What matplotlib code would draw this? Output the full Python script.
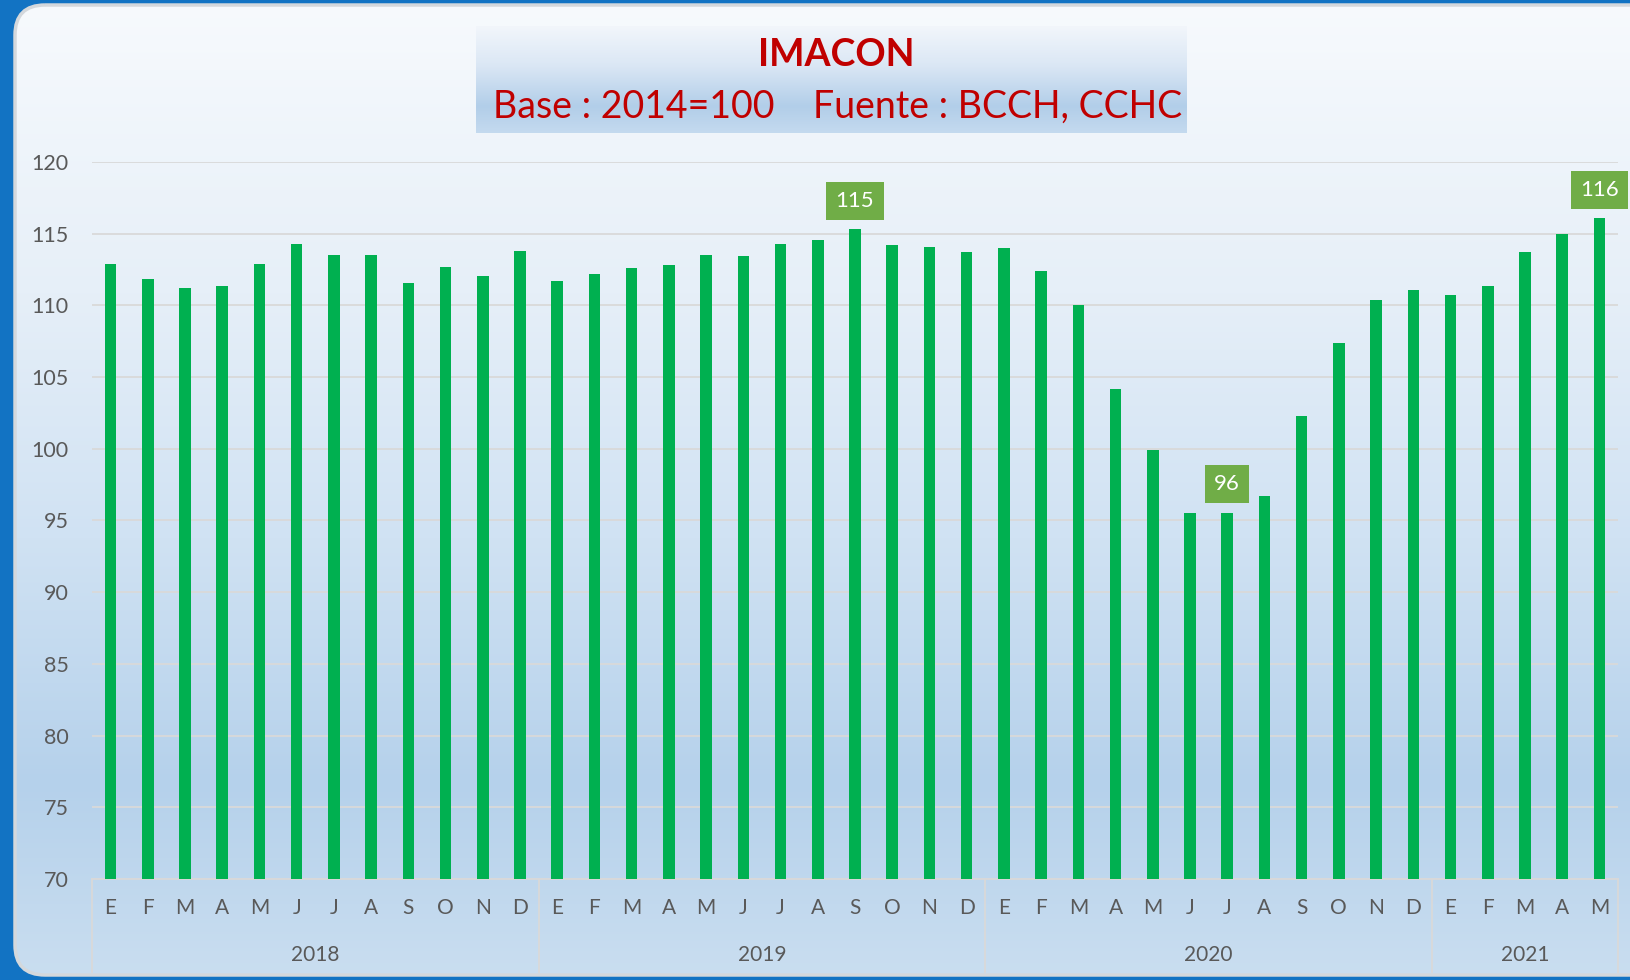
import numpy as np
import matplotlib
matplotlib.use("Agg")
import matplotlib.pyplot as plt
from matplotlib.patches import FancyBboxPatch
from matplotlib.lines import Line2D

plt.rcParams['font.family'] = ['Lato', 'DejaVu Sans']

# data
months = ['E', 'F', 'M', 'A', 'M', 'J', 'J', 'A', 'S', 'O', 'N', 'D']
years = ['2018', '2019', '2020', '2021']
months_per_year = [12, 12, 12, 5]
imacon = [112.9, 111.85, 111.2, 111.35, 112.9, 114.25, 113.5, 113.5, 111.55, 112.65, 112.05, 113.8,
          111.7, 112.2, 112.6, 112.8, 113.5, 113.45, 114.3, 114.55, 115.3, 114.2, 114.1, 113.7,
          114.0, 112.4, 110.05, 104.2, 99.9, 95.55, 95.55, 96.7, 102.3, 107.4, 110.4, 111.05,
          110.7, 111.35, 113.7, 114.97, 116.07]
labelled = {20: '115', 30: '96', 40: '116'}

W, H = 1631, 980
fig = plt.figure(figsize=(W / 100, H / 100), dpi=100)
fig.patch.set_facecolor('#1273C3')


def gradient(stops, n=400):
    pos = [s[0] for s in stops]
    cols = [matplotlib.colors.to_rgb(s[1]) for s in stops]
    t = np.linspace(0, 1, n)
    arr = np.zeros((n, 1, 3))
    for k in range(3):
        arr[:, 0, k] = np.interp(t, pos, [c[k] for c in cols])
    return arr


# background panel
bg = fig.add_axes([0, 0, 1, 1], zorder=-10)
bg.set_xlim(0, W)
bg.set_ylim(H, 0)
bg.axis('off')
panel = FancyBboxPatch((15, 5), W + 40, 970, boxstyle='round,pad=0,rounding_size=30',
                       fc='none', ec='#D4D8DC', lw=2.5, zorder=2)
bg.add_patch(panel)
img = bg.imshow(gradient([(0, '#F7FAFD'), (0.3, '#E6EFF8'), (0.55, '#D0E2F3'),
                          (0.8, '#B5D1EB'), (1, '#CADEF0')]),
                extent=(0, W, H, 0), aspect='auto', zorder=1)
img.set_clip_path(panel)

# title box
tb = fig.add_axes([476 / W, 1 - 133 / H, (1187 - 476) / W, (133 - 26) / H], zorder=-5)
tb.imshow(gradient([(0, '#F2F6FB'), (0.35, '#DCE8F5'), (0.75, '#B2CEE9'), (1, '#C4DAEF')]),
          extent=(0, 1, 0, 1), aspect='auto')
tb.axis('off')
fig.text(836 / W, 1 - 55 / H, 'IMACON', color='#C00000', fontsize=27, fontweight='bold',
         ha='center', va='center')
fig.text(838 / W, 1 - 107 / H, 'Base : 2014=100    Fuente : BCCH, CCHC', color='#C00000',
         fontsize=27, ha='center', va='center')

# main chart
ax = fig.add_axes([92 / W, 101 / H, (1618 - 92) / W, 717 / H])
ax.set_facecolor('none')
x = np.arange(len(imacon))
ax.bar(x, imacon, width=0.31, color='#00B050', zorder=3)
ax.set_xlim(-0.5, len(imacon) - 0.5)
ax.set_ylim(70, 120)
ax.set_yticks(range(70, 121, 5))
ax.yaxis.grid(True, color='#D9D9D9', lw=1.3, zorder=0)
ax.set_axisbelow(True)
for s in ['top', 'right', 'left']:
    ax.spines[s].set_visible(False)
ax.spines['bottom'].set_color('#D9D9D9')
ax.spines['bottom'].set_linewidth(1.3)
ax.tick_params(axis='y', length=0, pad=17, labelsize=15.5, labelcolor='#595959')
ax.set_xticks([])

for i, txt in labelled.items():
    ax.annotate(txt, (x[i], imacon[i]), xytext=(0, 20.5), textcoords='offset points',
                ha='center', va='center', color='white', fontsize=16,
                bbox=dict(boxstyle='square,pad=0.42', fc='#70AD47', ec='none'),
                annotation_clip=False, zorder=5)

# two-level category axis
tr = ax.get_xaxis_transform()
ah = 717
idx = 0
bounds = [-0.5]
for yr, n in zip(years, months_per_year):
    for m in range(n):
        ax.text(idx + m, -29 / ah, months[m], transform=tr, ha='center', va='center',
                fontsize=15, color='#595959')
    ax.text(idx + (n - 1) / 2, -76 / ah, yr, transform=tr, ha='center', va='center',
            fontsize=15, color='#595959')
    idx += n
    bounds.append(idx - 0.5)
for b in bounds:
    ax.add_line(Line2D([b, b], [0, -93 / ah], transform=tr, color='#D9D9D9', lw=1.3,
                       clip_on=False))

fig.savefig('out.png', dpi=100, facecolor=fig.get_facecolor())
